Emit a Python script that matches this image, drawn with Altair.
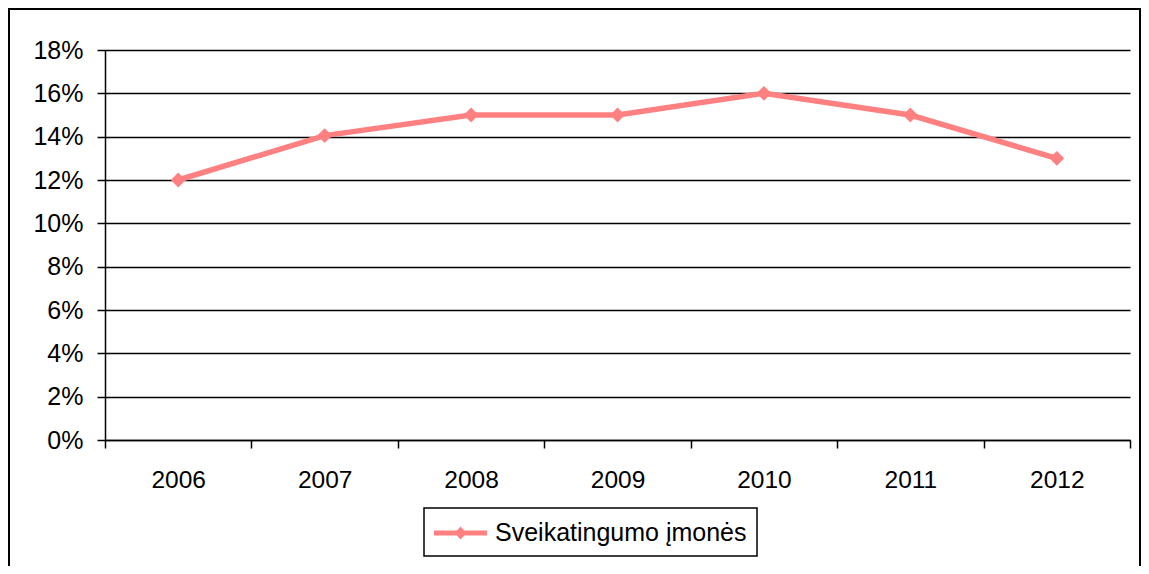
import altair as alt
import pandas as pd

years = ["2006", "2007", "2008", "2009", "2010", "2011", "2012"]
values = [0.12, 0.1405, 0.15, 0.15, 0.16, 0.15, 0.13]
series_name = "Sveikatingumo įmonės"
y_ticks = [0, 0.02, 0.04, 0.06, 0.08, 0.10, 0.12, 0.14, 0.16, 0.18]

df = pd.DataFrame({"year": years, "value": values, "series": [series_name] * len(years)})

COLOR = "#FF8080"
FONT = "Liberation Sans"
W, H = 1025, 390

x_enc = alt.X(
    "year:O",
    scale=alt.Scale(type="band", paddingInner=0, paddingOuter=0),
    axis=alt.Axis(
        title=None, labelAngle=0, tickBand="extent", grid=False,
        domainColor="black", domainWidth=1.5, tickColor="black", tickWidth=1.5,
        tickSize=8, labelPadding=20, labelFontSize=24.5, labelColor="black",
        labelFont=FONT,
    ),
)
y_enc = alt.Y(
    "value:Q",
    scale=alt.Scale(domain=[0, 0.18], nice=False, zero=True),
    axis=alt.Axis(
        title=None, values=y_ticks, format=".0%", grid=True, gridColor="black",
        gridWidth=1.4, domainColor="black", domainWidth=1.5, tickColor="black",
        tickWidth=1.5, tickSize=8, labelPadding=14, labelFontSize=25,
        labelColor="black", labelFont=FONT,
    ),
)
color_scale = alt.Scale(domain=[series_name], range=[COLOR])

frame = alt.Chart(df).mark_rect(
    fillOpacity=0, stroke="black", strokeWidth=2, clip=False
).encode(
    x=alt.value(-96), x2=alt.value(W + 10), y=alt.value(-41), y2=alt.value(H + 160)
)

line = alt.Chart(df).mark_line(strokeWidth=5.5, color=COLOR).encode(
    x=x_enc, y=y_enc,
)

# legend glyph: thick line with a diamond, in symbol units (r = 15px)
legend_path = (
    "M-1,-0.17 L2.53,-0.17 L2.53,0.17 L-1,0.17 Z "
    "M0.767,-0.43 L1.17,0 L0.767,0.43 L0.367,0 Z"
)

points = alt.Chart(df).mark_point(shape="diamond", filled=True, size=220, opacity=1).encode(
    x=x_enc, y=y_enc,
    color=alt.Color(
        "series:N", scale=color_scale,
        legend=alt.Legend(
            title=None, orient="none", legendX=319, legendY=458,
            direction="horizontal", symbolType=legend_path, symbolSize=900,
            symbolStrokeWidth=0, symbolOpacity=1, labelFontSize=25, labelFont=FONT,
            labelColor="black", labelOffset=31, strokeColor="black",
            fillColor="white", padding=10, labelLimit=400,
        ),
    ),
)

chart = alt.layer(frame, line, points).properties(
    width=W, height=H,
    autosize=alt.AutoSizeParams(type="none"),
    padding={"left": 97, "top": 42, "right": 11, "bottom": 126},
).configure_view(stroke=None).configure_legend(
    strokeWidth=1.5
)

chart.save("out.html", embed_options={"renderer": "svg", "actions": False})
